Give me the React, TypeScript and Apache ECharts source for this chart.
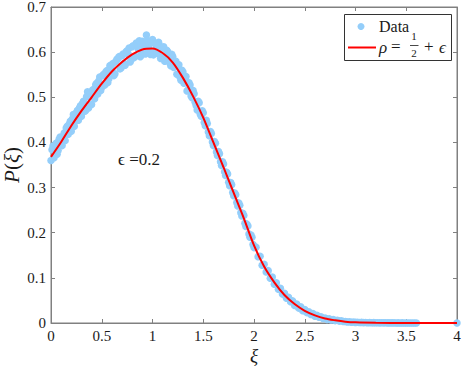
import React, { useEffect, useRef } from 'react';
import * as echarts from 'echarts';

const xTickLabels = ['0', '0.5', '1', '1.5', '2', '2.5', '3', '3.5', '4'];
const yTickLabels = ['0', '0.1', '0.2', '0.3', '0.4', '0.5', '0.6', '0.7'];

const dataPoints: number[][] = [
  [0, 0.36], [0.02, 0.392], [0.04, 0.385], [0.06, 0.374], [0.08, 0.407], [0.1, 0.396], [0.12, 0.413], [0.14, 0.404],
  [0.16, 0.436], [0.18, 0.441], [0.2, 0.425], [0.22, 0.462], [0.24, 0.448], [0.26, 0.471], [0.28, 0.476], [0.3, 0.458],
  [0.32, 0.491], [0.34, 0.47], [0.36, 0.512], [0.38, 0.502], [0.4, 0.484], [0.42, 0.517], [0.44, 0.528], [0.46, 0.507],
  [0.48, 0.545], [0.5, 0.522], [0.52, 0.551], [0.54, 0.556], [0.56, 0.533], [0.58, 0.57], [0.6, 0.56], [0.62, 0.548],
  [0.64, 0.58], [0.66, 0.586], [0.68, 0.563], [0.7, 0.592], [0.72, 0.575], [0.74, 0.601], [0.76, 0.596], [0.78, 0.578],
  [0.8, 0.612], [0.82, 0.588], [0.84, 0.62], [0.86, 0.607], [0.88, 0.59], [0.9, 0.624], [0.92, 0.6], [0.94, 0.638],
  [0.96, 0.614], [0.98, 0.595], [1, 0.628], [1.02, 0.599], [1.04, 0.612], [1.06, 0.622], [1.08, 0.586], [1.1, 0.609],
  [1.12, 0.58], [1.14, 0.604], [1.16, 0.594], [1.18, 0.57], [1.2, 0.59], [1.22, 0.575], [1.24, 0.551], [1.26, 0.572],
  [1.28, 0.538], [1.3, 0.556], [1.32, 0.541], [1.34, 0.514], [1.36, 0.532], [1.38, 0.503], [1.4, 0.515], [1.42, 0.489],
  [1.44, 0.472], [1.46, 0.488], [1.48, 0.458], [1.5, 0.466], [1.52, 0.437], [1.54, 0.442], [1.56, 0.415], [1.58, 0.42],
  [1.6, 0.393], [1.62, 0.398], [1.64, 0.371], [1.66, 0.375], [1.68, 0.349], [1.7, 0.352], [1.72, 0.327], [1.74, 0.33],
  [1.76, 0.304], [1.78, 0.306], [1.8, 0.282], [1.82, 0.284], [1.84, 0.259], [1.86, 0.261], [1.88, 0.237], [1.9, 0.238],
  [1.92, 0.214], [1.94, 0.215], [1.96, 0.19], [1.98, 0.19], [2, 0.167], [2.02, 0.168], [2.04, 0.147], [2.06, 0.148],
  [2.08, 0.128], [2.1, 0.13], [2.12, 0.113], [2.14, 0.116], [2.16, 0.099], [2.18, 0.102], [2.2, 0.086], [2.22, 0.089],
  [2.24, 0.075], [2.26, 0.077], [2.28, 0.064], [2.3, 0.066], [2.32, 0.055], [2.34, 0.057], [2.36, 0.047], [2.38, 0.049],
  [2.4, 0.039], [2.42, 0.042], [2.44, 0.033], [2.46, 0.036], [2.48, 0.027], [2.5, 0.03], [2.52, 0.023], [2.54, 0.025],
  [2.56, 0.019], [2.58, 0.021], [2.6, 0.015], [2.62, 0.017], [2.64, 0.013], [2.66, 0.014], [2.68, 0.01], [2.7, 0.011],
  [2.72, 0.008], [2.74, 0.0095], [2.76, 0.0068], [2.78, 0.0075], [2.8, 0.0053], [2.82, 0.006], [2.84, 0.0042], [2.86, 0.0048],
  [2.88, 0.0032], [2.9, 0.0035], [2.92, 0.0024], [2.94, 0.0028], [2.96, 0.0018], [2.98, 0.0021], [3, 0.0013], [3.02, 0.0016],
  [3.04, 0.0011], [3.06, 0.0013], [3.08, 0.0009], [3.1, 0.0011], [3.12, 0.0007], [3.14, 0.0009], [3.16, 0.0006], [3.18, 0.0008],
  [3.2, 0.0004], [3.22, 0.0006], [3.24, 0.0003], [3.26, 0.0005], [3.28, 0.0003], [3.3, 0.0004], [3.32, 0.0002], [3.34, 0.0003],
  [3.36, 0.0002], [3.38, 0.0003], [3.4, 0.0001], [3.42, 0.0002], [3.44, 0.0001], [3.46, 0.0002], [3.48, 0.0001], [3.5, 0.0001],
  [3.52, 0.0001], [3.54, 0], [3.56, 0.0001], [3.58, 0], [3.6, 0], [4, 0],
];

const dataPointsFine: number[][] = [
  [0.01, 0.384], [0.03, 0.366], [0.05, 0.398], [0.07, 0.382], [0.09, 0.412], [0.11, 0.393], [0.13, 0.421], [0.15, 0.432],
  [0.17, 0.418], [0.19, 0.447], [0.21, 0.452], [0.23, 0.436], [0.25, 0.466], [0.27, 0.449], [0.29, 0.481], [0.31, 0.486],
  [0.33, 0.469], [0.35, 0.501], [0.37, 0.476], [0.39, 0.509], [0.41, 0.516], [0.43, 0.497], [0.45, 0.531], [0.47, 0.536],
  [0.49, 0.515], [0.51, 0.548], [0.53, 0.527], [0.55, 0.559], [0.57, 0.541], [0.59, 0.571], [0.61, 0.575], [0.63, 0.552],
  [0.65, 0.584], [0.67, 0.59], [0.69, 0.565], [0.71, 0.596], [0.73, 0.571], [0.75, 0.603], [0.77, 0.609], [0.79, 0.583],
  [0.81, 0.614], [0.83, 0.591], [0.85, 0.618], [0.87, 0.625], [0.89, 0.594], [0.91, 0.616], [0.93, 0.596], [0.95, 0.626],
  [0.97, 0.605], [0.99, 0.621], [1.01, 0.594], [1.03, 0.618], [1.05, 0.597], [1.07, 0.614], [1.09, 0.589], [1.11, 0.612],
  [1.13, 0.585], [1.15, 0.601], [1.17, 0.576], [1.19, 0.595], [1.21, 0.566], [1.23, 0.58], [1.25, 0.571], [1.27, 0.545],
  [1.29, 0.56], [1.31, 0.531], [1.33, 0.546], [1.35, 0.516], [1.37, 0.527], [1.39, 0.499], [1.41, 0.508], [1.43, 0.482],
  [1.45, 0.491], [1.47, 0.463], [1.49, 0.47], [1.51, 0.444], [1.53, 0.449], [1.55, 0.423], [1.57, 0.424], [1.59, 0.401],
  [1.61, 0.402], [1.63, 0.379], [1.65, 0.38], [1.67, 0.357], [1.69, 0.357], [1.71, 0.335], [1.73, 0.334], [1.75, 0.312],
  [1.77, 0.311], [1.79, 0.289], [1.81, 0.288], [1.83, 0.267], [1.85, 0.266], [1.87, 0.244], [1.89, 0.243], [1.91, 0.221],
  [1.93, 0.219], [1.95, 0.197], [1.97, 0.195], [1.99, 0.174],
];

const fitPoints: number[][] = [
  [0, 0.368], [0.1, 0.401], [0.2, 0.437], [0.3, 0.47], [0.4, 0.5], [0.5, 0.53], [0.6, 0.557], [0.7, 0.578],
  [0.8, 0.595], [0.9, 0.606], [1, 0.608], [1.1, 0.598], [1.2, 0.577], [1.3, 0.543], [1.4, 0.502], [1.5, 0.455],
  [1.6, 0.4], [1.7, 0.345], [1.8, 0.288], [1.9, 0.232], [2, 0.172], [2.1, 0.125], [2.2, 0.09], [2.3, 0.062],
  [2.4, 0.042], [2.5, 0.027], [2.6, 0.017], [2.7, 0.01], [2.8, 0.006], [2.9, 0.003], [3, 0.0015], [3.2, 0.0005],
  [3.5, 0.0001], [4, 0],
];

const FONT = '"Liberation Serif", serif';
const AXIS_COLOR = '#808080';
const DATA_COLOR = '#94cefa';
const FIT_COLOR = '#ff0000';
const TEXT_COLOR = '#1a1a1a';

export default function App() {
  const ref = useRef<HTMLDivElement>(null);
  useEffect(() => {
    document.body.style.margin = '0';
    if (!ref.current) return;
    const chart = echarts.init(ref.current, undefined, { renderer: 'svg' });
    const tickCommon = { show: true, inside: true, length: 4, lineStyle: { color: AXIS_COLOR } };
    const lineCommon = { show: true, onZero: false, lineStyle: { color: AXIS_COLOR, width: 1 } };
    chart.setOption({
      animation: false,
      backgroundColor: '#fff',
      grid: {
        left: 51, right: 6, top: 7, bottom: 47, containLabel: false, outerBoundsMode: 'none',
        show: true, borderColor: AXIS_COLOR, borderWidth: 1, backgroundColor: 'transparent',
      },
      xAxis: [
        {
          show: true, type: 'value', min: 0, max: 4, interval: 0.5, position: 'bottom',
          axisLine: lineCommon, axisTick: tickCommon, splitLine: { show: false },
          axisLabel: {
            color: TEXT_COLOR, fontFamily: FONT, fontSize: 15, margin: 5,
            formatter: (v: number) => xTickLabels[Math.round(v / 0.5)] ?? '',
          },
          name: 'ξ', nameLocation: 'middle', nameGap: 23, nameMoveOverlap: false,
          nameTextStyle: { fontFamily: FONT, fontStyle: 'italic', fontSize: 19, color: TEXT_COLOR },
        },
        {
          show: true, type: 'value', min: 0, max: 4, interval: 0.5, position: 'top',
          axisLine: lineCommon, axisTick: tickCommon, axisLabel: { show: false }, splitLine: { show: false },
        },
      ],
      yAxis: [
        {
          show: true, type: 'value', min: 0, max: 0.7, interval: 0.1, position: 'left',
          axisLine: lineCommon, axisTick: tickCommon, splitLine: { show: false },
          axisLabel: {
            color: TEXT_COLOR, fontFamily: FONT, fontSize: 15, margin: 5,
            formatter: (v: number) => yTickLabels[Math.round(v / 0.1)] ?? '',
          },
          name: '{i|P}{r|(}{i|ξ}{r|)}', nameLocation: 'middle', nameGap: 29, nameRotate: 90,
          nameMoveOverlap: false,
          nameTextStyle: {
            rich: {
              i: { fontFamily: FONT, fontStyle: 'italic', fontSize: 21, color: TEXT_COLOR },
              r: { fontFamily: FONT, fontSize: 21, color: TEXT_COLOR },
            },
          },
        },
        {
          show: true, type: 'value', min: 0, max: 0.7, interval: 0.1, position: 'right',
          axisLine: lineCommon, axisTick: tickCommon, axisLabel: { show: false }, splitLine: { show: false },
        },
      ],
      series: [
        {
          name: 'Data', type: 'scatter', data: dataPoints.concat(dataPointsFine), symbol: 'circle', symbolSize: 7.5,
          itemStyle: { color: DATA_COLOR, opacity: 1 }, silent: true,
        },
        {
          name: 'fit', type: 'line', data: fitPoints, smooth: 0.3, symbol: 'none', showSymbol: false,
          lineStyle: { color: FIT_COLOR, width: 2 }, silent: true, z: 3,
        },
      ],
      graphic: [
        {
          type: 'text', left: 118, top: 151,
          style: { text: 'ϵ =0.2', fontFamily: FONT, fontSize: 17, fill: TEXT_COLOR },
        },
        {
          type: 'group', z: 100,
          children: [
            { type: 'rect', shape: { x: 344.5, y: 14.5, width: 107, height: 46 }, style: { fill: '#fff', stroke: '#333', lineWidth: 1 } },
            { type: 'circle', shape: { cx: 361, cy: 26.5, r: 3.5 }, style: { fill: DATA_COLOR } },
            { type: 'text', x: 379, y: 26, style: { text: 'Data', fontFamily: FONT, fontSize: 16, fill: TEXT_COLOR, verticalAlign: 'middle' } },
            { type: 'line', shape: { x1: 348, y1: 47.5, x2: 376, y2: 47.5 }, style: { stroke: FIT_COLOR, lineWidth: 2 } },
            { type: 'text', x: 379, y: 47, style: { text: 'ρ', fontFamily: FONT, fontStyle: 'italic', fontSize: 17, fill: TEXT_COLOR, verticalAlign: 'middle' } },
            { type: 'text', x: 391, y: 46, style: { text: '=', fontFamily: FONT, fontSize: 17, fill: TEXT_COLOR, verticalAlign: 'middle' } },
            { type: 'text', x: 414, y: 36, style: { text: '1', fontFamily: FONT, fontSize: 11, fill: TEXT_COLOR, align: 'center', verticalAlign: 'middle' } },
            { type: 'line', shape: { x1: 410, y1: 45.5, x2: 418.5, y2: 45.5 }, style: { stroke: TEXT_COLOR, lineWidth: 0.8 } },
            { type: 'text', x: 414, y: 53, style: { text: '2', fontFamily: FONT, fontSize: 11, fill: TEXT_COLOR, align: 'center', verticalAlign: 'middle' } },
            { type: 'text', x: 424, y: 46, style: { text: '+', fontFamily: FONT, fontSize: 17, fill: TEXT_COLOR, verticalAlign: 'middle' } },
            { type: 'text', x: 439, y: 47, style: { text: 'ϵ', fontFamily: FONT, fontStyle: 'italic', fontSize: 17, fill: TEXT_COLOR, verticalAlign: 'middle' } },
          ],
        },
      ],
    });
    return () => chart.dispose();
  }, []);
  return <div ref={ref} style={{ width: 463, height: 370 }} />;
}
